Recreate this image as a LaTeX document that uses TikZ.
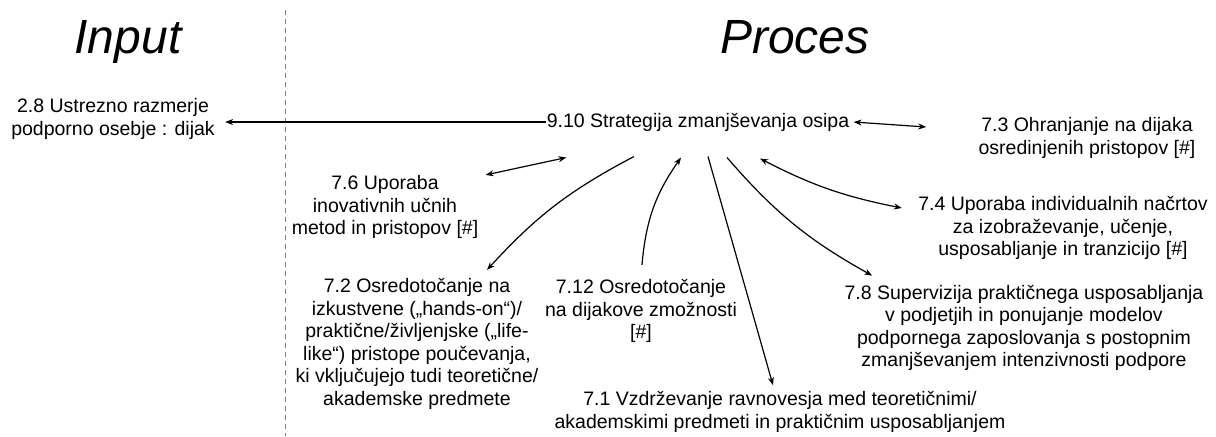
\documentclass[tikz,border=0pt]{standalone}
\usepackage{fontspec}
\setmainfont{Liberation Sans}
\usetikzlibrary{arrows.meta}

\begin{document}
\begin{tikzpicture}[x=0.5pt,y=-0.5pt,
	every node/.style={font=\fontsize{9.75}{11.3}\selectfont, align=center, inner sep=0pt},
	ttl/.style={font=\fontsize{24}{28}\selectfont\itshape, anchor=base},
	arr/.style={line width=0.6pt, -{Stealth[length=4pt,width=3pt]}},
	darr/.style={line width=0.6pt, {Stealth[length=4pt,width=3pt]}-{Stealth[length=4pt,width=3pt]}}]
	\useasboundingbox (0,0) rectangle (1216,436);
	\node[ttl] (ttlin) at (128,53) {Input};
	\node[ttl] (ttlpr) at (795,53) {Proces};
	\draw[gray, line width=0.5pt, dash pattern=on 2.5pt off 2pt] (285,10) -- (285,436);
	\foreach \nname/\cx/\cy/\ntext in {n28/113/119/{2.8 Ustrezno razmerje\\podporno osebje : dijak},
		n910/698/122/{9.10 Strategija zmanjševanja osipa},
		n73/1087/138/{7.3 Ohranjanje na dijaka\\osredinjenih pristopov [\#]},
		n76/385/207/{7.6 Uporaba\\inovativnih učnih\\metod in pristopov [\#]},
		n74/1063/228/{7.4 Uporaba individualnih načrtov\\za izobraževanje, učenje,\\usposabljanje in tranzicijo [\#]},
		n72/417/344/{7.2 Osredotočanje na\\izkustvene („hands-on“)/\\praktične/življenjske („life-\\like“) pristope poučevanja,\\ki vključujejo tudi teoretične/\\akademske predmete},
		n712/641/311/{7.12 Osredotočanje\\na dijakove zmožnosti\\{[\#]}},
		n78/1024/328/{7.8 Supervizija praktičnega usposabljanja\\v podjetjih in ponujanje modelov\\podpornega zaposlovanja s postopnim\\zmanjševanjem intenzivnosti podpore},
		n71/780/412/{7.1 Vzdrževanje ravnovesja med teoretičnimi/\\akademskimi predmeti in praktičnim usposabljanjem}} {
		\node (\nname) at (\cx,\cy) {\ntext};
	}
	% povezave
	\draw[arr] (n910.west) -- ([xshift=5pt]n28.east |- n910.west);
	\draw[darr] ([xshift=2pt]n910.east) -- ([xshift=-26pt,yshift=5.5pt]n73.west);
	\draw[darr] ([xshift=3.5pt]n76.north east) -- ([xshift=10pt,yshift=-13pt]n910.south west);
	\draw[arr] ([xshift=-32pt,yshift=-12.5pt]n910.south) to[bend right=10] ([xshift=35pt,yshift=4pt]n72.north);
	\draw[arr] ([xshift=0.5pt,yshift=7pt]n712.north) to[bend left=15] ([xshift=-8.5pt,yshift=-13pt]n910.south);
	\draw[arr] ([xshift=5pt,yshift=-12.5pt]n910.south) -- ([xshift=-3.5pt,yshift=3pt]n71.north);
	\draw[arr] ([xshift=14.5pt,yshift=-13pt]n910.south) to[bend right=10] ([xshift=14pt,yshift=4.5pt]n78.north west);
	\draw[darr] ([xshift=31pt,yshift=-13.5pt]n910.south) to[bend right=8] ([xshift=-8pt,yshift=10pt]n74.west);
\end{tikzpicture}
\end{document}
